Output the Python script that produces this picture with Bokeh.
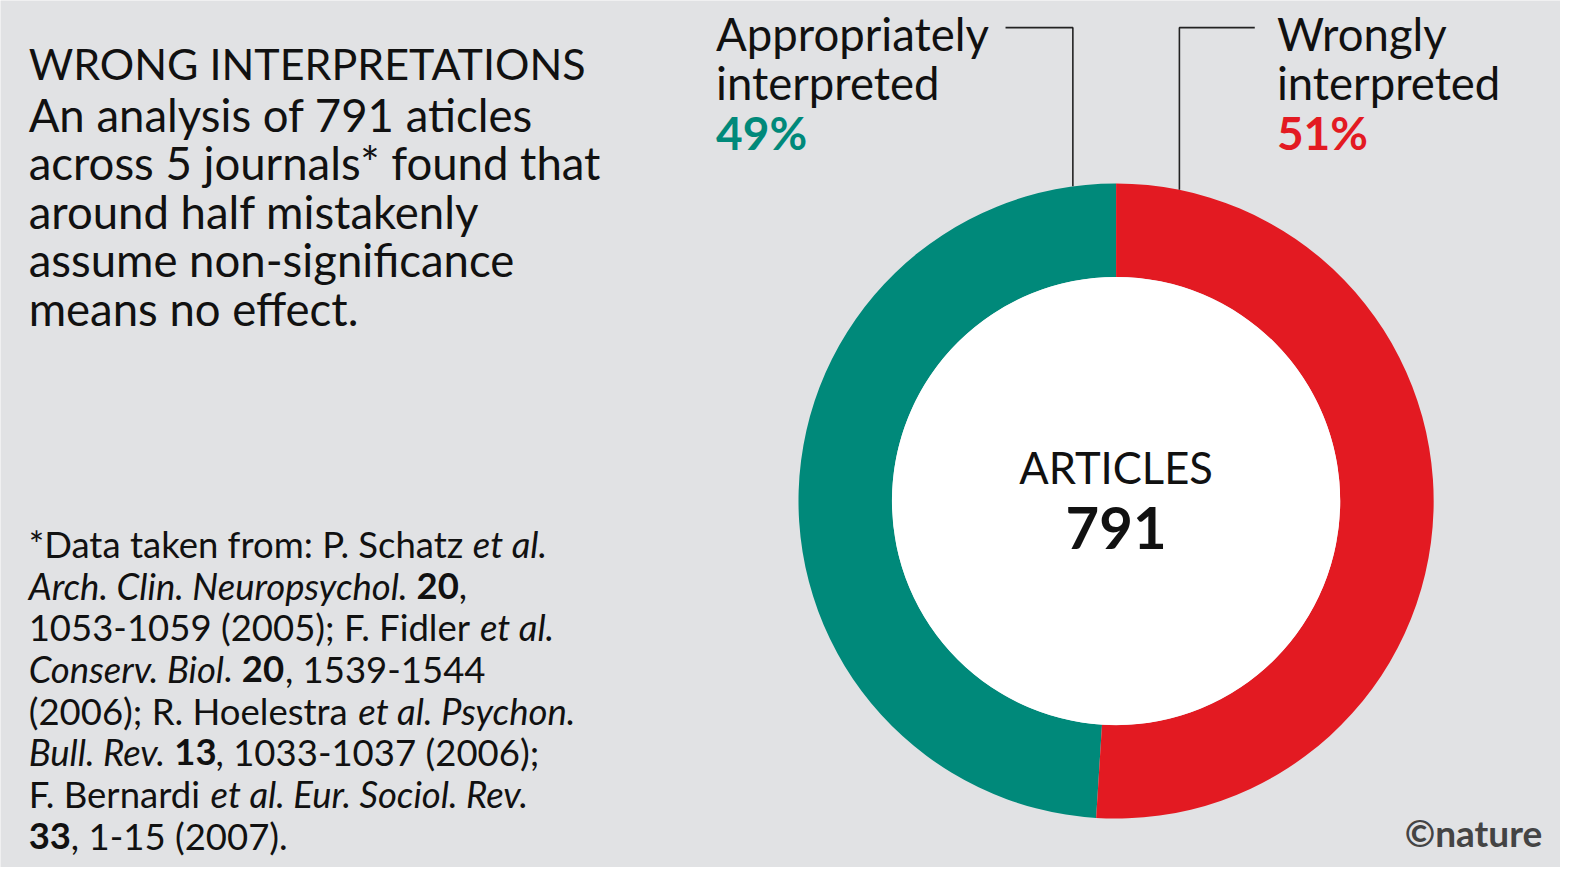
import math
from bokeh.plotting import figure
from bokeh.models import Range1d
from bokeh.core.properties import value
from bokeh.embed import file_html
from bokeh.resources import INLINE

# ---- data ----
categories = ["Appropriately interpreted", "Wrongly interpreted"]
percent = [49, 51]
total_articles = 791
colors = ["#00897a", "#e31a22"]

BG = "#e1e2e4"
INK = "#111111"
FONT = "Lato"

W, H = 1560, 867
K = 0.995
p = figure(width=W, height=H, x_range=Range1d(0, W), y_range=Range1d(0, H),
           output_backend="svg", toolbar_location=None, min_border=0)
p.axis.visible = False
p.grid.visible = False
p.outline_line_color = None
p.background_fill_color = BG
p.border_fill_color = BG


def X(px):
    return px / K


def Y(py):
    return H - py / K


def txt(x, yc, s, size, style="normal", color=INK, align="left"):
    # yc: visual centre of the line
    p.text(x=[X(x)], y=[Y(yc - 2)], text=[s], text_font=value(FONT),
           text_font_size=f"{size}px", text_font_style=style,
           text_color=color, text_align=align, text_baseline="alphabetic")


# ---- donut ----
cx, cy = X(1110), Y(498)
R_out, R_in = 316 / K, 223 / K
fr = [v / sum(percent) for v in percent]
starts, ends = [], []
acc = math.pi / 2
for f in fr:
    starts.append(acc)
    acc += 2 * math.pi * f
    ends.append(acc)
p.annular_wedge(x=[cx] * 2, y=[cy] * 2, inner_radius=R_in, outer_radius=R_out,
                start_angle=starts, end_angle=ends, fill_color=colors,
                line_color=None)
p.circle(x=[cx], y=[cy], radius=R_in, fill_color="white", line_color=None)

txt(1110, 466, "ARTICLES", 43.5, align="center")
txt(1110, 527, str(total_articles), 58, style="bold", align="center")

# ---- leader lines ----
def ring_top(xpx):
    dx = X(xpx) - cx
    return cy + math.sqrt(R_out ** 2 - dx ** 2)

p.line(x=[X(1000), X(1067), X(1067)], y=[Y(27), Y(27), ring_top(1067)],
       line_color="#222222", line_width=1.6)
p.line(x=[X(1248), X(1173), X(1173)], y=[Y(27), Y(27), ring_top(1173)],
       line_color="#222222", line_width=1.6)

# ---- category labels ----
txt(712, 35, "Appropriately", 45.5)
txt(712, 84, "interpreted", 45.5)
txt(712, 133, f"{percent[0]}%", 46, style="bold", color=colors[0])
txt(1270, 35, "Wrongly", 45.5)
txt(1270, 84, "interpreted", 45.5)
txt(1270, 133, f"{percent[1]}%", 46, style="bold", color=colors[1])

# ---- title & subtitle ----
txt(28, 65, "WRONG INTERPRETATIONS", 43)
body_lines = ["An analysis of 791 aticles",
              "across 5 journals* found that",
              "around half mistakenly",
              "assume non-significance",
              "means no effect."]
for i, s in enumerate(body_lines):
    txt(28, 115 + i * 48.4, s, 45.5)

# ---- footnote (segments with mixed styles; offsets from line start) ----
foot = [
    [(0, "*Data taken from: P. Schatz ", "normal"), (442, "et al.", "italic")],
    [(0, "Arch. Clin. Neuropsychol. ", "italic"), (386, "20", "bold"), (428, ",", "normal")],
    [(0, "1053-1059 (2005); F. Fidler ", "normal"), (449, "et al.", "italic")],
    [(0, "Conserv. Biol", "italic"), (194, ".", "normal"), (212, "20", "bold"),
     (255, ", 1539-1544", "normal")],
    [(0, "(2006); R. Hoelestra ", "normal"), (328, "et al. Psychon.", "italic")],
    [(0, "Bull. Rev. ", "italic"), (145, "13", "bold"), (186, ", 1033-1037 (2006);", "normal")],
    [(0, "F. Bernardi ", "normal"), (181, "et al. Eur. Sociol. Rev.", "italic")],
    [(0, "33", "bold"), (42, ", 1-15 (2007).", "normal")],
]
for i, segs in enumerate(foot):
    for dx, s, st in segs:
        txt(28 + dx, 543 + i * 41.43, s, 36.5, style=st)

txt(1534, 830, "\u00a9nature", 37, style="bold", color="#444444", align="right")

open("out.html", "w").write(file_html(p, INLINE))
